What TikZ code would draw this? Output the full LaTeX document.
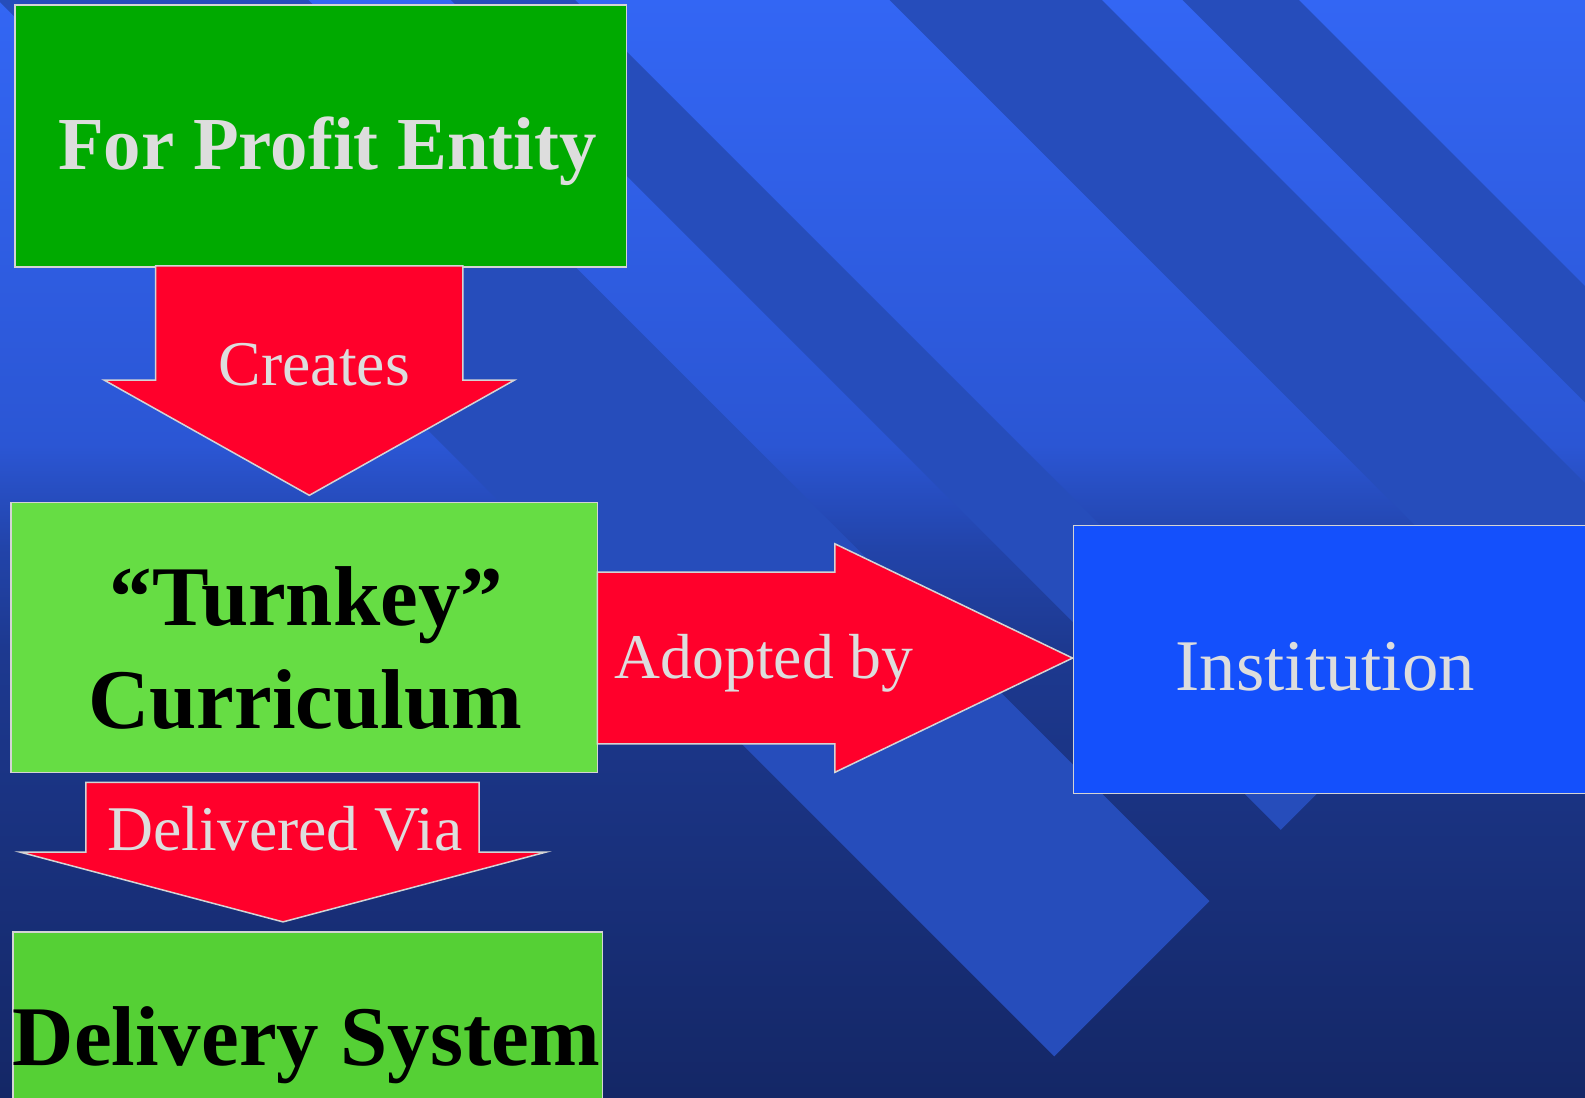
\documentclass[tikz,border=0pt]{standalone}
\usepackage{fontspec}
\setmainfont{Liberation Serif}
\usepackage{tikz}

\definecolor{bgtop}{HTML}{3366F4}
\definecolor{bgmid}{HTML}{2B56D4}
\definecolor{bglow}{HTML}{2244AA}
\definecolor{bgdeep}{HTML}{1D3990}
\definecolor{bgbot}{HTML}{142766}
\definecolor{stripeblue}{HTML}{264DBB}
\definecolor{profitgreen}{HTML}{00AA00}
\definecolor{turnkeygreen}{HTML}{66DD44}
\definecolor{deliverygreen}{HTML}{55D035}
\definecolor{flowred}{HTML}{FF002B}
\definecolor{instblue}{HTML}{1450FC}
\definecolor{edgegray}{HTML}{D4D4D4}
\definecolor{labelgray}{HTML}{DDDDDD}

\tikzset{
  box/.style={draw=edgegray,line width=1.5pt,inner sep=0pt,outer sep=0pt,anchor=north west},
  flow/.style={fill=flowred,draw=edgegray,line width=1.5pt},
  flowtext/.style={anchor=base,inner sep=0pt,text=labelgray,font=\fontsize{63}{76}\selectfont},
  boldtext/.style={anchor=base,inner sep=0pt,font=\bfseries\fontsize{84}{100}\selectfont}
}

\begin{document}
\begin{tikzpicture}[x=1pt,y=-1pt]
\useasboundingbox (0,0) rectangle (1568,1086);
\clip (0,0) rectangle (1568,1086);

% background and stripes
\shade[top color=bgtop,bottom color=bgmid] (0,-1) rectangle (1568,441);
\shade[top color=bgmid,bottom color=bglow] (0,440) rectangle (1568,541);
\shade[top color=bglow,bottom color=bgdeep] (0,540) rectangle (1568,641);
\shade[top color=bgdeep,bottom color=bgbot] (0,640) rectangle (1568,1087);
\foreach \lo/\hi in {-2/305,446/569,880/1090,1170/1285}
  \fill[stripeblue] (\lo-10,-10) -- (\hi-10,-10) -- ({(2088+\hi)/2},{(2088-\hi)/2})
    -- ({(2088+(\lo))/2},{(2088-(\lo))/2}) -- cycle;

% boxes
\node[box,fill=profitgreen,minimum width=605pt,minimum height=259pt] (profit) at (15,5) {};
\node[box,fill=turnkeygreen,minimum width=580pt,minimum height=267pt] (turnkey) at (11,497) {};
\node[box,fill=instblue,minimum width=520pt,minimum height=265pt] (inst) at (1062,520) {};
\node[box,fill=deliverygreen,minimum width=583pt,minimum height=200pt] (delivery) at (13,922) {};

% block arrows
\draw[flow] (154,263) -- (458,263) -- (458,376) -- (509,376) -- (306,490) -- (103,376) -- (154,376) -- cycle;
\draw[flow] (591,566) -- (826,566) -- (826,538) -- (1061,651) -- (826,764) -- (826,736) -- (591,736) -- cycle;
\draw[flow] (85,774) -- (474,774) -- (474,843) -- (540,843) -- (280,912) -- (20,843) -- (85,843) -- cycle;

% texts
\node[anchor=base,inner sep=0pt,text=labelgray,font=\bfseries\fontsize{74}{88}\selectfont] (profittext) at (324,168) {For Profit Entity};
\node[boldtext] (turnkeytext) at (303,619) {“Turnkey”};
\node[boldtext] (curriculumtext) at (302,721) {Curriculum};
\node[boldtext] (deliverytext) at (303,1054) {Delivery System};
\node[flowtext] (creates) at (311,381) {Creates};
\node[flowtext] (adopted) at (756,671) {Adopted by};
\node[flowtext] (delivered) at (282,841) {Delivered Via};
\node[anchor=base,inner sep=0pt,text=labelgray,font=\fontsize{72}{86}\selectfont] (insttext) at (1311,683) {Institution};
\end{tikzpicture}
\end{document}
